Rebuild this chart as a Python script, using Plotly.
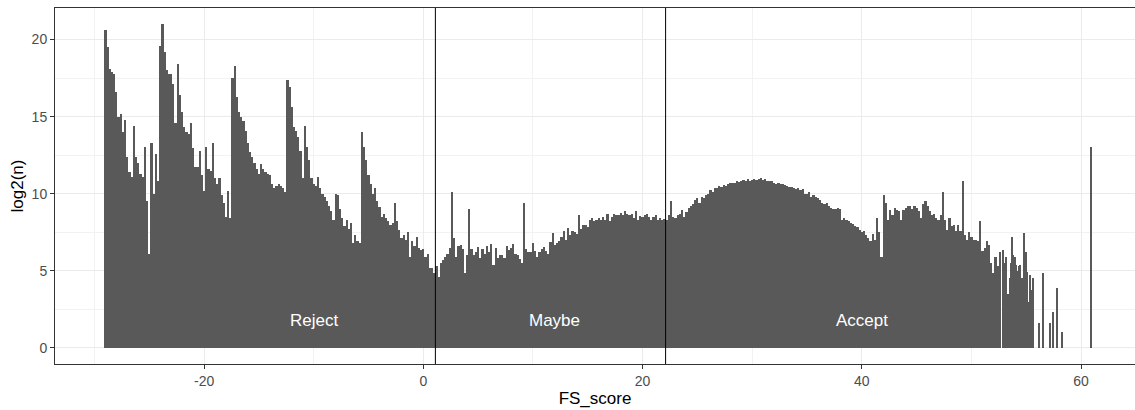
import numpy as np
import plotly.graph_objects as go

# ---- data -------------------------------------------------------------
score_start = -29.0   # centre of first bin
score_step = 0.2      # bin width used for the dense part

reject_log2n = [
    20.6, 19.5, 18.1, 17.9, 17.8, 16.6, 15.0, 15.2, 14.0, 14.8,
    12.4, 11.4, 11.1, 14.4, 12.4, 12.0, 11.3, 11.1, 13.0, 9.5,
    6.1, 13.3, 10.0, 12.6, 10.8, 19.6, 21.0, 19.2, 18.0, 17.8,
    17.8, 17.1, 14.6, 18.4, 16.4, 15.3, 14.3, 14.0, 13.9, 14.6,
    12.95, 11.75, 11.75, 12.8, 11.2, 10.2, 13.0, 11.6, 11.5, 13.3,
    11.0, 10.6, 11.0, 9.9, 9.4, 8.5, 10.2, 8.4, 17.5, 18.3,
    16.3, 15.3, 15.0, 14.7, 14.1, 13.3, 12.7, 12.4, 12.0, 11.6,
    11.3, 11.9, 11.6, 11.4, 11.3, 11.2, 10.6, 10.4, 10.5, 10.6,
    10.5, 10.4, 10.1, 17.4, 16.9, 15.6, 14.3, 14.1, 13.7, 12.8,
    11.0, 14.4, 13.0, 12.2, 11.0, 10.6, 10.5, 11.1, 10.4, 10.0,
    9.8, 9.5, 9.2, 8.9, 8.3, 10.0, 9.9, 9.0, 8.4, 7.9,
    8.3, 7.7, 8.1, 6.8, 7.3, 6.9, 6.8, 14.0, 13.0, 12.2,
    11.2, 10.6, 10.0, 10.4, 9.5, 9.15, 8.5, 8.7, 8.4, 8.2,
    8.0, 8.1, 9.4, 8.25, 7.65, 7.1, 7.3, 7.0, 7.5, 5.9,
    6.9, 6.6, 7.2, 6.5, 6.35, 6.4, 5.9, 6.1, 5.2, 5.15, 4.85,
]

maybe_log2n = [
    5.3, 4.6, 5.5, 5.7, 5.9, 6.1, 6.45, 10.1, 7.1, 5.9,
    6.6, 6.7, 6.4, 4.85, 6.0, 9.0, 6.4, 6.0, 6.25, 6.55,
    5.85, 6.4, 6.1, 6.6, 6.2, 6.75, 5.4, 6.5, 5.85, 6.0,
    6.0, 5.85, 6.6, 6.35, 6.45, 6.75, 6.1, 6.0, 5.75, 5.5,
    9.4, 6.4, 6.25, 6.2, 6.8, 6.3, 5.9, 6.2, 6.4, 6.55,
    6.3, 6.1, 6.85, 7.45, 6.7, 6.8, 6.9, 7.2, 7.55, 7.0,
    7.75, 7.3, 7.55, 7.5, 7.4, 8.6, 7.7, 7.95, 8.0, 7.85,
    8.3, 8.4, 8.2, 8.3, 8.4, 8.3, 8.5, 8.3, 8.7, 8.2,
    8.5, 8.7, 8.6, 8.6, 8.75, 8.6, 8.85, 8.7, 8.6, 8.7,
    8.4, 8.85, 8.3, 8.55, 8.5, 8.6, 8.7, 8.5, 8.3, 8.5,
    8.6, 8.3, 8.4, 8.3, 8.35,
]

accept_log2n = [
    8.3, 8.6, 9.5, 8.5, 8.4, 8.6, 8.7, 8.95, 8.5, 8.8,
    9.1, 9.2, 9.3, 9.6, 9.7, 9.4, 9.8, 9.75, 9.9, 10.0,
    10.25, 10.1, 10.35, 10.4, 10.5, 10.45, 10.55, 10.5, 10.6, 10.7,
    10.7, 10.7, 10.8, 10.75, 10.8, 10.9, 10.85, 10.95, 10.8, 10.9,
    10.95, 10.9, 10.95, 11.0, 10.9, 10.95, 10.85, 10.8, 10.8, 10.7,
    10.65, 10.7, 10.6, 10.6, 10.55, 10.5, 10.45, 10.45, 10.4, 10.3,
    10.35, 10.25, 10.3, 10.0, 9.95, 10.1, 9.8, 9.9, 9.8, 9.7,
    9.6, 9.4, 9.35, 9.4, 9.2, 9.1, 9.0, 9.0, 9.05, 9.0,
    8.3, 8.4, 8.3, 8.2, 8.1, 8.05, 7.9, 7.85, 7.65, 7.5,
    7.6, 7.35, 7.1, 6.9, 7.4, 7.0, 8.4, 7.5, 5.9, 9.9,
    9.4, 8.3, 8.95, 8.6, 9.05, 8.95, 8.9, 8.3, 8.95, 9.1,
    9.2, 9.2, 9.0, 9.2, 9.05, 8.9, 8.4, 9.3, 9.5, 9.2,
    8.9, 8.6, 8.7, 8.4, 8.3, 8.6, 10.1, 8.3, 7.65, 8.4,
    7.9, 8.0, 7.6, 7.95, 7.6, 10.8, 7.3, 7.0, 7.5, 7.2,
    7.0, 7.0, 6.9, 8.2, 6.3, 6.5, 6.9, 6.7, 5.5, 4.85,
    5.9, 5.3, 6.2,
]

# sparse tail: individual scores (0.1 bins)
tail_scores = [52.9, 53.0, 53.1, 53.2, 53.3, 53.4, 53.5, 53.6, 53.7, 53.8,
               54.0, 54.1, 54.2, 54.3, 54.4, 54.6,
               54.8, 54.9, 55.0, 55.1, 55.2, 55.3, 55.4, 55.5, 55.6,
               56.2, 56.5, 57.2, 57.4, 57.8, 58.3, 60.9]
tail_log2n = [6.35, 5.5, 4.95, 5.9, 3.5, 1.05, 4.5, 5.5, 7.2, 6.0,
              5.9, 5.4, 5.0, 5.3, 5.4, 4.5,
              7.45, 5.5, 6.2, 4.95, 3.0, 4.7, 3.75, 3.55, 4.5,
              1.6, 4.85, 1.6, 2.35, 3.9, 1.05, 13.0]

thresholds = [1.1, 22.1]
zone_labels = ["Reject", "Maybe", "Accept"]
zone_label_x = [-10, 12, 40]
zone_label_y = 1.8

x_ticks = [-20, 0, 20, 40, 60]
x_minor = [-30, -10, 10, 30, 50]
y_ticks = [0, 5, 10, 15, 20]
y_minor = [2.5, 7.5, 12.5, 17.5]

# ---- figure -----------------------------------------------------------
main_log2n = reject_log2n + maybe_log2n + accept_log2n
main_scores = score_start + score_step * np.arange(len(main_log2n))

BAR = "#595959"
FONT = "Liberation Sans, Arial, sans-serif"

fig = go.Figure()
fig.add_bar(x=main_scores, y=main_log2n, width=score_step,
            marker=dict(color=BAR, line=dict(width=0)), showlegend=False,
            hoverinfo="x+y")
fig.add_bar(x=tail_scores, y=tail_log2n, width=0.1,
            marker=dict(color=BAR, line=dict(width=0)), showlegend=False,
            hoverinfo="x+y")

for t in thresholds:
    fig.add_shape(type="line", xref="x", yref="paper", x0=t, x1=t, y0=0, y1=1,
                  line=dict(color="black", width=1), layer="above")

for lab, lx in zip(zone_labels, zone_label_x):
    fig.add_annotation(x=lx, y=zone_label_y, text=lab, showarrow=False,
                       font=dict(family=FONT, size=17, color="white"),
                       xanchor="center", yanchor="middle")

fig.update_layout(
    width=1135, height=410,
    margin=dict(l=55, r=0, t=8, b=46),
    paper_bgcolor="white", plot_bgcolor="white",
    barmode="overlay", bargap=0,
    font=dict(family=FONT),
)
axis_common = dict(
    showline=True, linecolor="#333333", linewidth=1,
    ticks="outside", ticklen=4, tickcolor="#333333", tickwidth=1,
    showgrid=True, gridcolor="#EBEBEB", gridwidth=1, zeroline=False,
    tickfont=dict(family=FONT, size=14, color="#4D4D4D"),
)
fig.update_xaxes(
    range=[-33.6, 64.92], tickmode="array", tickvals=x_ticks,
    ticktext=[str(v) for v in x_ticks], mirror=True,
    minor=dict(tickmode="array", tickvals=x_minor, showgrid=True,
               gridcolor="#F2F2F2", gridwidth=1, ticks=""),
    title=dict(text="FS_score", font=dict(family=FONT, size=17, color="black"),
               standoff=4),
    **axis_common,
)
fig.update_yaxes(
    range=[-1.05, 22.05], tickmode="array", tickvals=y_ticks,
    ticktext=[str(v) for v in y_ticks], mirror=False,
    minor=dict(tickmode="array", tickvals=y_minor, showgrid=True,
               gridcolor="#F2F2F2", gridwidth=1, ticks=""),
    title=dict(text="log2(n)", font=dict(family=FONT, size=17, color="black"),
               standoff=3),
    **axis_common,
)

fig.write_html("out.html")
